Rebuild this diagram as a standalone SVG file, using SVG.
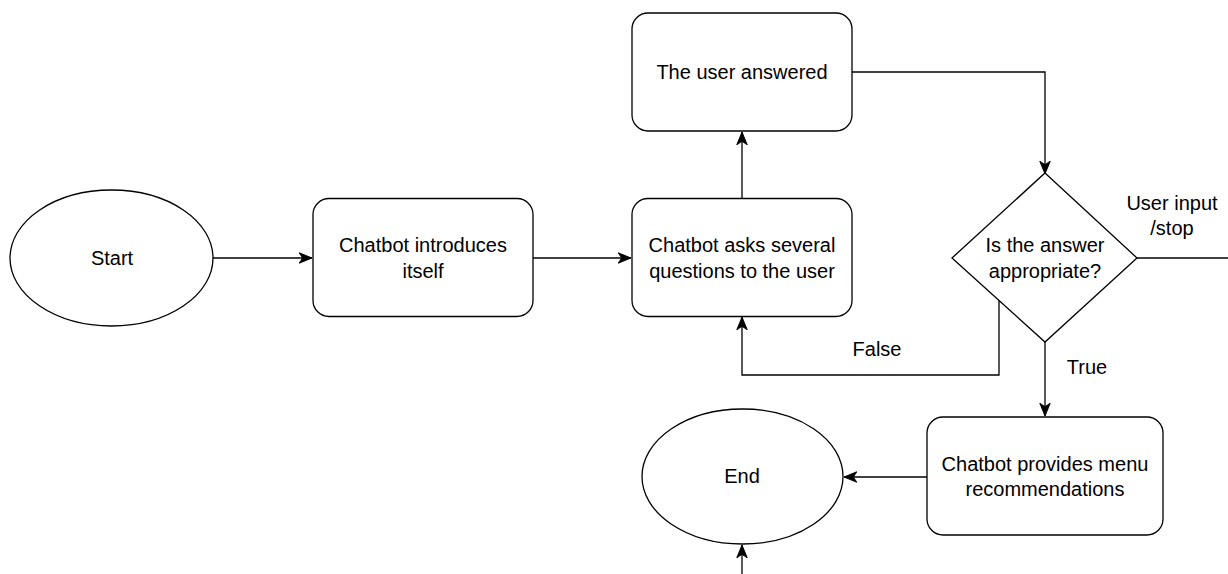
<svg xmlns="http://www.w3.org/2000/svg" width="1228" height="574" viewBox="0 0 1228 574">
  <defs>
    <style>
      .shape { fill: #ffffff; stroke: #000000; stroke-width: 1.3; }
      .edge { fill: none; stroke: #000000; stroke-width: 1.3; }
      .lbl { font-family: "Liberation Sans", Arial, sans-serif; font-size: 20px; fill: #000000; text-anchor: middle; dominant-baseline: central; }
    </style>
    <marker id="arrow" markerUnits="userSpaceOnUse" markerWidth="14" markerHeight="14" viewBox="0 0 12 10" refX="11" refY="5" orient="auto">
      <path d="M0,0.5 L11,5 L0,9.5 L3,5 Z" fill="#000000" stroke="#000000" stroke-width="0.8"/>
    </marker>
  </defs>
  <rect width="1228" height="574" fill="#ffffff"/>

  <g id="connectors">
    <path class="edge" d="M213,258 H312" marker-end="url(#arrow)"/>
    <path class="edge" d="M533,258 H631" marker-end="url(#arrow)"/>
    <path class="edge" d="M742,199 V132" marker-end="url(#arrow)"/>
    <path class="edge" d="M852,72 H1045 V174" marker-end="url(#arrow)"/>
    <path class="edge" d="M1137,258 H1228"/>
    <path class="edge" d="M999,300 V375 H742 V317" marker-end="url(#arrow)"/>
    <path class="edge" d="M1045,342 V416" marker-end="url(#arrow)"/>
    <path class="edge" d="M927,477 H844" marker-end="url(#arrow)"/>
    <path class="edge" d="M742,574 V545" marker-end="url(#arrow)"/>
    <text class="lbl" x="877" y="349">False</text>
    <text class="lbl" x="1087" y="367">True</text>
    <text class="lbl" x="1172" y="203">User input</text>
    <text class="lbl" x="1172" y="228">/stop</text>
  </g>

  <g id="start">
    <ellipse class="shape" cx="111.5" cy="258" rx="101.5" ry="68"/>
    <text class="lbl" x="112" y="258">Start</text>
  </g>

  <g id="introduces">
    <rect class="shape" x="313" y="198.5" width="220" height="118" rx="16" ry="16"/>
    <text class="lbl" x="423" y="245">Chatbot introduces</text>
    <text class="lbl" x="423" y="271">itself</text>
  </g>

  <g id="asks">
    <rect class="shape" x="632" y="198.5" width="220" height="118" rx="16" ry="16"/>
    <text class="lbl" x="742" y="245">Chatbot asks several</text>
    <text class="lbl" x="742" y="271">questions to the user</text>
  </g>

  <g id="answered">
    <rect class="shape" x="632" y="13" width="220" height="118" rx="16" ry="16"/>
    <text class="lbl" x="742" y="72">The user answered</text>
  </g>

  <g id="decision">
    <polygon class="shape" points="1045,173 1137,258 1045,342 952,258"/>
    <text class="lbl" x="1045" y="245">Is the answer</text>
    <text class="lbl" x="1045" y="271">appropriate?</text>
  </g>

  <g id="provides">
    <rect class="shape" x="927" y="417" width="236" height="118" rx="16" ry="16"/>
    <text class="lbl" x="1045" y="464">Chatbot provides menu</text>
    <text class="lbl" x="1045" y="489">recommendations</text>
  </g>

  <g id="end">
    <ellipse class="shape" cx="742.5" cy="476.5" rx="100.5" ry="67.5"/>
    <text class="lbl" x="742" y="476">End</text>
  </g>
</svg>
